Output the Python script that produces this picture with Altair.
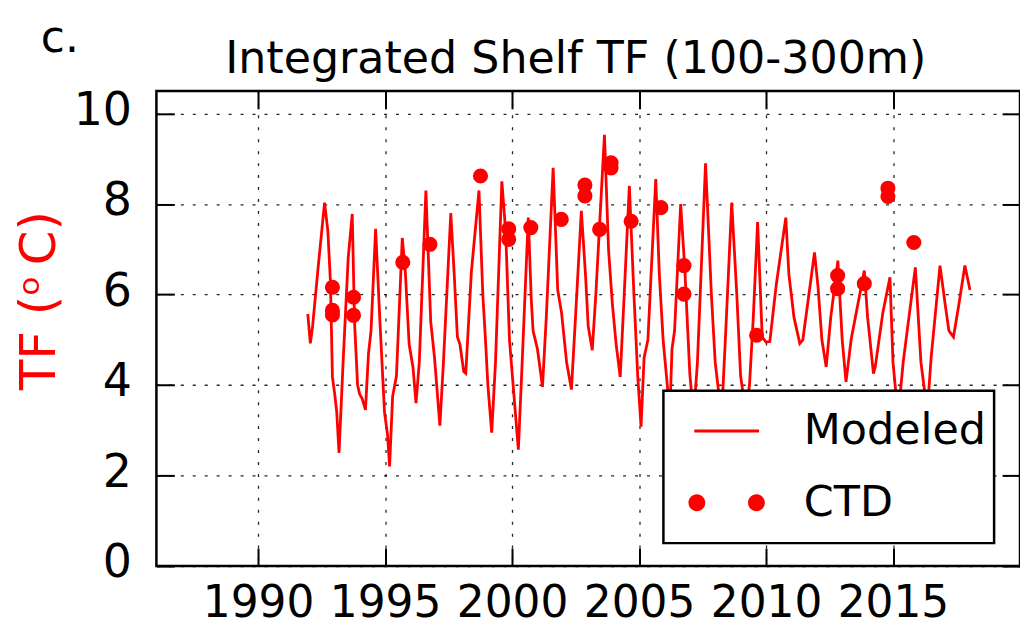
import altair as alt
import pandas as pd

# Modeled thermal forcing (year, TF degC)
model_year = [1991.96, 1992.06, 1992.15, 1992.35, 1992.62, 1992.75, 1992.85, 1992.93, 1993.02, 1993.10,
              1993.19, 1993.35, 1993.55, 1993.71, 1993.80, 1993.92, 1994.00, 1994.10, 1994.23, 1994.35,
              1994.45, 1994.63, 1994.80, 1994.98, 1995.10, 1995.18, 1995.30, 1995.45, 1995.68, 1995.80,
              1995.95, 1996.10, 1996.22, 1996.35, 1996.61, 1996.80, 1996.95, 1997.16, 1997.30, 1997.59,
              1997.72, 1997.85, 1997.95, 1998.10, 1998.18, 1998.40, 1998.70, 1998.85, 1998.95, 1999.05,
              1999.20, 1999.35, 1999.60, 1999.75, 1999.90, 2000.05, 2000.25, 2000.40, 2000.64, 2000.76,
              2000.83, 2001.00, 2001.20, 2001.35, 2001.62, 2001.80, 2001.95, 2002.15, 2002.34, 2002.50,
              2002.73, 2002.90, 2003.00, 2003.16, 2003.30, 2003.64, 2003.80, 2003.95, 2004.10, 2004.26,
              2004.40, 2004.62, 2004.80, 2004.95, 2005.08, 2005.20, 2005.35, 2005.66, 2005.80, 2005.95,
              2006.12, 2006.20, 2006.30, 2006.40, 2006.64, 2006.80, 2007.00, 2007.15, 2007.30, 2007.62,
              2007.85, 2008.00, 2008.25, 2008.40, 2008.65, 2008.85, 2009.00, 2009.20, 2009.35, 2009.50,
              2009.67, 2009.85, 2010.00, 2010.15, 2010.40, 2010.78, 2010.90, 2011.10, 2011.33, 2011.45,
              2011.91, 2012.05, 2012.20, 2012.37, 2012.55, 2012.83, 2013.00, 2013.15, 2013.35, 2013.87,
              2014.00, 2014.23, 2014.30, 2014.60, 2014.88, 2015.00, 2015.20, 2015.40, 2015.88, 2016.10,
              2016.35, 2016.50, 2016.85, 2017.05, 2017.20, 2017.38, 2017.60, 2017.83, 2018.03]
model_tf = [5.57, 4.92, 5.30, 6.50, 8.03, 7.40, 6.30, 4.18, 3.80, 3.40,
            2.50, 4.50, 6.80, 7.78, 5.40, 4.00, 3.80, 3.70, 3.45, 4.70,
            5.20, 7.45, 5.40, 3.40, 2.90, 2.20, 3.75, 4.20, 7.25, 6.50,
            4.90, 4.40, 3.60, 4.50, 8.30, 5.40, 4.60, 3.10, 4.50, 7.80,
            6.50, 5.06, 4.90, 4.30, 4.26, 6.50, 8.30, 6.00, 5.06, 4.00,
            2.95, 4.50, 8.50, 7.40, 5.00, 3.96, 2.57, 4.50, 7.70, 5.87,
            5.20, 4.80, 3.96, 5.50, 8.80, 6.10, 5.60, 4.50, 3.90, 5.50,
            7.85, 6.38, 5.30, 4.77, 6.00, 9.53, 7.00, 5.80, 4.90, 4.18,
            5.80, 8.40, 6.00, 4.20, 3.08, 4.60, 5.00, 8.55, 6.45, 5.00,
            3.96, 3.20, 4.80, 5.20, 8.00, 6.60, 4.25, 3.30, 4.50, 8.90,
            6.00, 4.50, 3.30, 5.00, 8.03, 6.00, 4.20, 3.40, 4.00, 5.50,
            7.60, 5.06, 4.95, 4.96, 6.20, 7.70, 6.45, 5.50, 4.92, 5.00,
            6.93, 6.16, 5.00, 4.40, 5.50, 6.75, 5.00, 4.07, 5.00, 6.53,
            5.50, 4.25, 4.40, 5.60, 6.38, 4.50, 3.30, 4.50, 6.60, 4.50,
            3.40, 4.60, 6.64, 5.80, 5.20, 5.06, 5.80, 6.64, 6.10]

# CTD observations
ctd_year = [1992.93, 1992.93, 1992.93, 1993.76, 1993.76, 1995.70, 1996.77, 1998.76, 1999.87, 1999.87,
            2000.74, 2001.94, 2002.87, 2002.87, 2003.45, 2003.90, 2003.90, 2004.69, 2005.86, 2006.77,
            2006.77, 2009.63, 2012.82, 2012.82, 2013.87, 2014.80, 2014.80, 2015.82]
ctd_tf = [6.16, 5.65, 5.55, 5.94, 5.54, 6.71, 7.11, 8.62, 7.45, 7.22,
          7.48, 7.66, 8.42, 8.18, 7.44, 8.91, 8.80, 7.62, 7.92, 6.64,
          6.01, 5.10, 6.42, 6.13, 6.24, 8.35, 8.17, 7.15]

x_ticks = [1990, 1995, 2000, 2005, 2010, 2015]
y_ticks = [0, 2, 4, 6, 8, 10]
series_names = ["Modeled", "CTD"]
title_text = "Integrated Shelf TF (100-300m)"
panel_label = "c."
y_title = "TF (ᵒ\u2009C)"

FONT = "DejaVu Sans"
W, H = 867, 477
TICK = 18

model_df = pd.DataFrame({"year": model_year, "tf": model_tf})
ctd_df = pd.DataFrame({"year": ctd_year, "tf": ctd_tf})
legend_df = pd.DataFrame({"series": series_names})

xs = alt.Scale(domain=[1986, 2020], nice=False, zero=False)
ys = alt.Scale(domain=[0, 10.5], nice=False, zero=False)

grid_common = dict(grid=True, gridColor="#000000", gridDash=[3, 9], gridWidth=1.3, gridOpacity=0.85,
                   ticks=False, tickSize=0, domain=False, labelFont=FONT,
                   labelColor="#000000")

x_main_axis = alt.Axis(values=x_ticks, format="d", labelPadding=16, title=None, labelFlush=False,
                       labelFontSize=44, **grid_common)
y_main_axis = alt.Axis(values=y_ticks, format="d", labelPadding=25, title=y_title, titleColor="red",
                       titleFont=FONT, titleFontSize=50, titleFontWeight="normal", titleAngle=-90,
                       titleX=-117, titleY=210, titleAlign="center", titleBaseline="middle",
                       labelFlush=False, labelOffset=-3, labelFontSize=46, **grid_common)

line = alt.Chart(model_df).mark_line(color="red", strokeWidth=2.8).encode(
    x=alt.X("year:Q", scale=xs, axis=x_main_axis),
    y=alt.Y("tf:Q", scale=ys, axis=y_main_axis),
)

points = alt.Chart(ctd_df).mark_circle(color="red", size=230, opacity=1).encode(
    x=alt.X("year:Q", scale=xs, axis=None),
    y=alt.Y("tf:Q", scale=ys, axis=None),
)


def tick_axis(vals, orient):
    return alt.Axis(values=vals, orient=orient, offset=-TICK, tickSize=TICK, tickWidth=2,
                    tickColor="#000000", labels=False, grid=False, domain=False, title=None)


ticks_bottom = alt.Chart(model_df).mark_line(opacity=0).encode(
    x=alt.X("year:Q", scale=xs, axis=tick_axis(x_ticks, "bottom")),
    y=alt.Y("tf:Q", scale=ys, axis=None))
ticks_top = alt.Chart(model_df).mark_line(opacity=0).encode(
    x=alt.X("year:Q", scale=xs, axis=tick_axis(x_ticks, "top")),
    y=alt.Y("tf:Q", scale=ys, axis=None))
ticks_left = alt.Chart(model_df).mark_line(opacity=0).encode(
    x=alt.X("year:Q", scale=xs, axis=None),
    y=alt.Y("tf:Q", scale=ys, axis=tick_axis(y_ticks, "left")))
ticks_right = alt.Chart(model_df).mark_line(opacity=0).encode(
    x=alt.X("year:Q", scale=xs, axis=None),
    y=alt.Y("tf:Q", scale=ys, axis=tick_axis(y_ticks, "right")))

line_path = "M-1,-0.045L1,-0.045L1,0.045L-1,0.045Z"
dots_path = ("M-1.18,0A0.26,0.26 0 1,0 -0.66,0A0.26,0.26 0 1,0 -1.18,0Z"
             "M0.66,0A0.26,0.26 0 1,0 1.18,0A0.26,0.26 0 1,0 0.66,0Z")

legend_layer = alt.Chart(legend_df).transform_filter("false").mark_point(
    filled=True, color="red", opacity=1, size=4225).encode(
    x=alt.X("series:N", axis=None),
    shape=alt.Shape("series:N", scale=alt.Scale(domain=series_names, range=[line_path, dots_path]),
                    legend=alt.Legend(title="\u00a0", titleOrient="bottom", titleFontSize=10,
                                      titlePadding=0, orient="none", legendX=509, legendY=301,
                                      symbolSize=4225, symbolFillColor="red", symbolStrokeWidth=0,
                                      symbolOffset=23, labelOffset=45, labelFont=FONT,
                                      labelFontSize=43, labelColor="#000000", labelLimit=500,
                                      rowPadding=17, padding=8, strokeColor="#000000",
                                      fillColor="white", cornerRadius=0, zindex=5,
                                      labelExpr="datum.label + '\u00a0'")),
)

title_df = pd.DataFrame({"t": [title_text]})
label_df = pd.DataFrame({"t": [panel_label]})
title_mark = alt.Chart(title_df).mark_text(font=FONT, fontSize=44.5, color="#000000", align="center",
                                            baseline="alphabetic").encode(
    x=alt.value(421), y=alt.value(-18), text="t:N")
label_mark = alt.Chart(label_df).mark_text(font=FONT, fontSize=44, color="#000000", align="left",
                                            baseline="alphabetic").encode(
    x=alt.value(-116), y=alt.value(-39), text="t:N")

chart = alt.layer(
    line, points, ticks_bottom, ticks_top, ticks_left, ticks_right, legend_layer, title_mark, label_mark
).resolve_axis(x="independent", y="independent").resolve_scale(x="shared", y="shared").properties(
    width=W, height=H,
    autosize=alt.AutoSizeParams(type="none"),
    padding={"left": 149, "top": 82, "right": 0, "bottom": 70},
).configure_view(stroke="#000000", strokeWidth=2.5).configure_legend(strokeWidth=2.5)

chart.save("out.html", embed_options={"renderer": "svg", "actions": False})
